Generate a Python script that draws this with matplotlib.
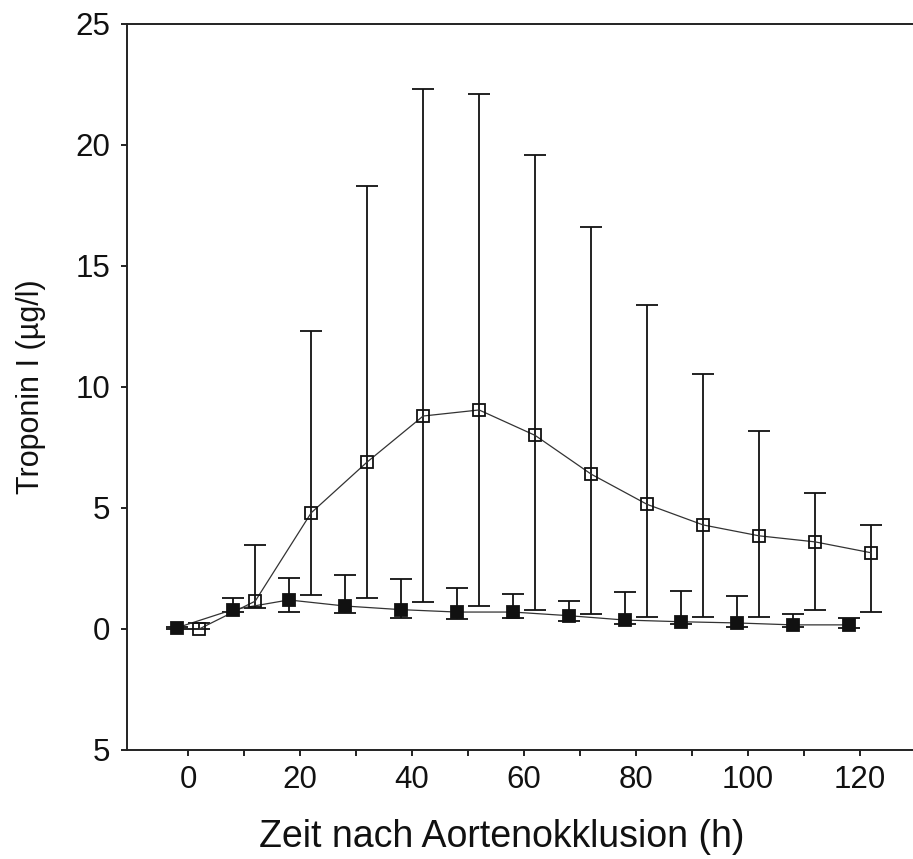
import numpy as np
import matplotlib.pyplot as plt

plt.rcParams['font.family'] = ['Liberation Sans', 'DejaVu Sans']

# group with filled squares
hours_filled = [-2, 8, 18, 28, 38, 48, 58, 68, 78, 88, 98, 108, 118]
tni_filled = [0.05, 0.8, 1.2, 0.95, 0.8, 0.7, 0.7, 0.55, 0.37, 0.3, 0.25, 0.17, 0.17]
upper_filled = [0.1, 1.28, 2.1, 2.23, 2.05, 1.7, 1.45, 1.15, 1.52, 1.57, 1.35, 0.6, 0.45]
lower_filled = [0.0, 0.7, 0.7, 0.65, 0.45, 0.4, 0.45, 0.35, 0.2, 0.2, 0.1, 0.1, 0.05]

# group with open squares
hours_open = [2, 12, 22, 32, 42, 52, 62, 72, 82, 92, 102, 112, 122]
tni_open = [0.0, 1.15, 4.8, 6.9, 8.8, 9.05, 8.0, 6.4, 5.15, 4.3, 3.85, 3.6, 3.15]
upper_open = [0.25, 3.47, 12.3, 18.3, 22.3, 22.1, 19.6, 16.6, 13.4, 10.55, 8.2, 5.6, 4.3]
lower_open = [0.0, 0.87, 1.4, 1.28, 1.1, 0.95, 0.8, 0.6, 0.5, 0.5, 0.5, 0.8, 0.7]

x_major = [0, 20, 40, 60, 80, 100, 120]
x_minor = [10, 30, 50, 70, 90, 110]
y_ticks = [-5, 0, 5, 10, 15, 20, 25]
y_labels = ['5', '0', '5', '10', '15', '20', '25']


def draw_group(ax, x, y, lo, hi, face):
    y = np.array(y)
    err = [y - np.array(lo), np.array(hi) - y]
    ax.errorbar(x, y, yerr=err, fmt='none', ecolor='#111111', elinewidth=1.3,
                capsize=7.9, capthick=1.3, zorder=2)
    ax.plot(x, y, color='#333333', lw=0.9, zorder=3)
    ax.plot(x, y, ls='none', marker='s', markersize=9.2, markerfacecolor=face,
            markeredgecolor='#111111', markeredgewidth=1.3, zorder=4)


fig = plt.figure(figsize=(9.13, 8.59), dpi=100)
ax = fig.add_axes([0.1391, 0.1269, 0.8609, 0.8452])

draw_group(ax, hours_open, tni_open, lower_open, upper_open, 'none')
draw_group(ax, hours_filled, tni_filled, lower_filled, upper_filled, '#111111')

ax.set_xlim(-10.9, 129.5)
ax.set_ylim(-5, 25)
ax.set_xticks(x_major)
ax.set_xticks(x_minor, minor=True)
ax.set_yticks(y_ticks)
ax.set_yticklabels(y_labels)

for side in ['left', 'bottom', 'top']:
    ax.spines[side].set_linewidth(1.4)
    ax.spines[side].set_color('#222222')
ax.spines['right'].set_visible(False)

ax.tick_params(which='both', direction='out', length=4.3, width=1.4, color='#222222',
               labelsize=22.5, labelcolor='#111111', top=False, right=False)
ax.tick_params(axis='y', pad=8)
ax.tick_params(axis='x', pad=6.5)

ax.set_xlabel('Zeit nach Aortenokklusion (h)', fontsize=27, color='#111111')
ax.xaxis.set_label_coords(0.477, -0.095)
ax.set_ylabel('Troponin I (µg/l)', fontsize=22, color='#111111')
ax.yaxis.set_label_coords(-0.103, 0.5)

fig.savefig('out.png', dpi=100)
